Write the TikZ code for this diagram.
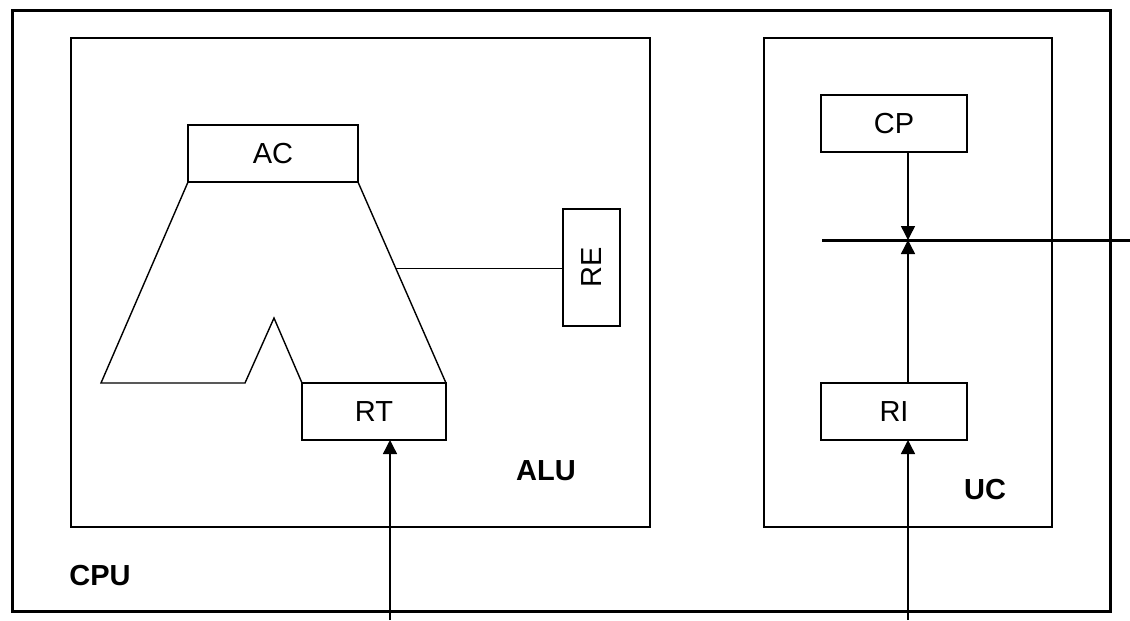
\documentclass[tikz,border=0pt]{standalone}
\usepackage{fontspec}
\setmainfont{Liberation Sans}
\usetikzlibrary{arrows.meta,positioning,calc}
\tikzset{
  unit/.style={draw,line width=0.9pt,inner sep=0pt,outer sep=0pt},
  reg/.style={draw,line width=0.8pt,inner sep=0pt,outer sep=0pt,
    minimum height=1.14cm,font=\fontsize{16.5}{19}\selectfont},
  tag/.style={font=\fontsize{16.5}{19}\selectfont\bfseries},
  wire/.style={line width=0.8pt},
  arrow/.style={-{Triangle[length=0.28cm,width=0.28cm]},line width=0.8pt}
}
\begin{document}
\begin{tikzpicture}[x=0.02cm,y=-0.02cm]
  \useasboundingbox (0,0) rectangle (1130,620);
  % frames
  \node[unit,line width=1.7pt,minimum width=21.98cm,minimum height=12.04cm] (cpu) at (561.5,311) {};
  \node[unit,minimum width=11.58cm,minimum height=9.78cm] (alu) at (360.5,282.5) {};
  \node[unit,minimum width=5.76cm,minimum height=9.78cm] (uc) at (908,282.5) {};
  \node[tag] (cpulbl) at (100,576) {CPU};
  \node[tag] (alulbl) at (546,471) {ALU};
  \node[tag] (uclbl) at (985,490) {UC};
  % registers
  \node[reg,minimum width=3.4cm] (ac) at (273,153.5) {AC};
  \node[reg,minimum width=2.88cm] (rt) at (374,411.5) {RT};
  \node[reg,minimum width=2.34cm,rotate=90] (re) at (591.5,267.5) {RE};
  \node[reg,minimum width=2.92cm] (cp) at (894,123.5) {CP};
  \node[reg,minimum width=2.92cm] (ri) at (894,411.5) {RI};
  % ALU body
  \draw[wire] (ac.south west) -- (101,383) -- (245,383) -- (274,318) -- (rt.north west);
  \draw[wire] (ac.south east) -- (rt.north east);
  \coordinate (retap) at ($(ac.south east)!0.43!(rt.north east)$);
  \draw[wire] (retap) -- (retap -| re.north);
  % bus
  \coordinate (busl) at (822,240);
  \coordinate (busr) at (1130,240);
  \coordinate (tap) at (908,240);
  \draw[line width=1.7pt] (busl) -- (busr);
  \draw[arrow] (tap |- cp.south) -- (tap);
  \draw[arrow] (tap |- ri.north) -- (tap);
  % inputs
  \coordinate (rtin) at (390,620);
  \coordinate (riin) at (908,620);
  \draw[arrow] (rtin) -- (rtin |- rt.south);
  \draw[arrow] (riin) -- (riin |- ri.south);
\end{tikzpicture}
\end{document}
